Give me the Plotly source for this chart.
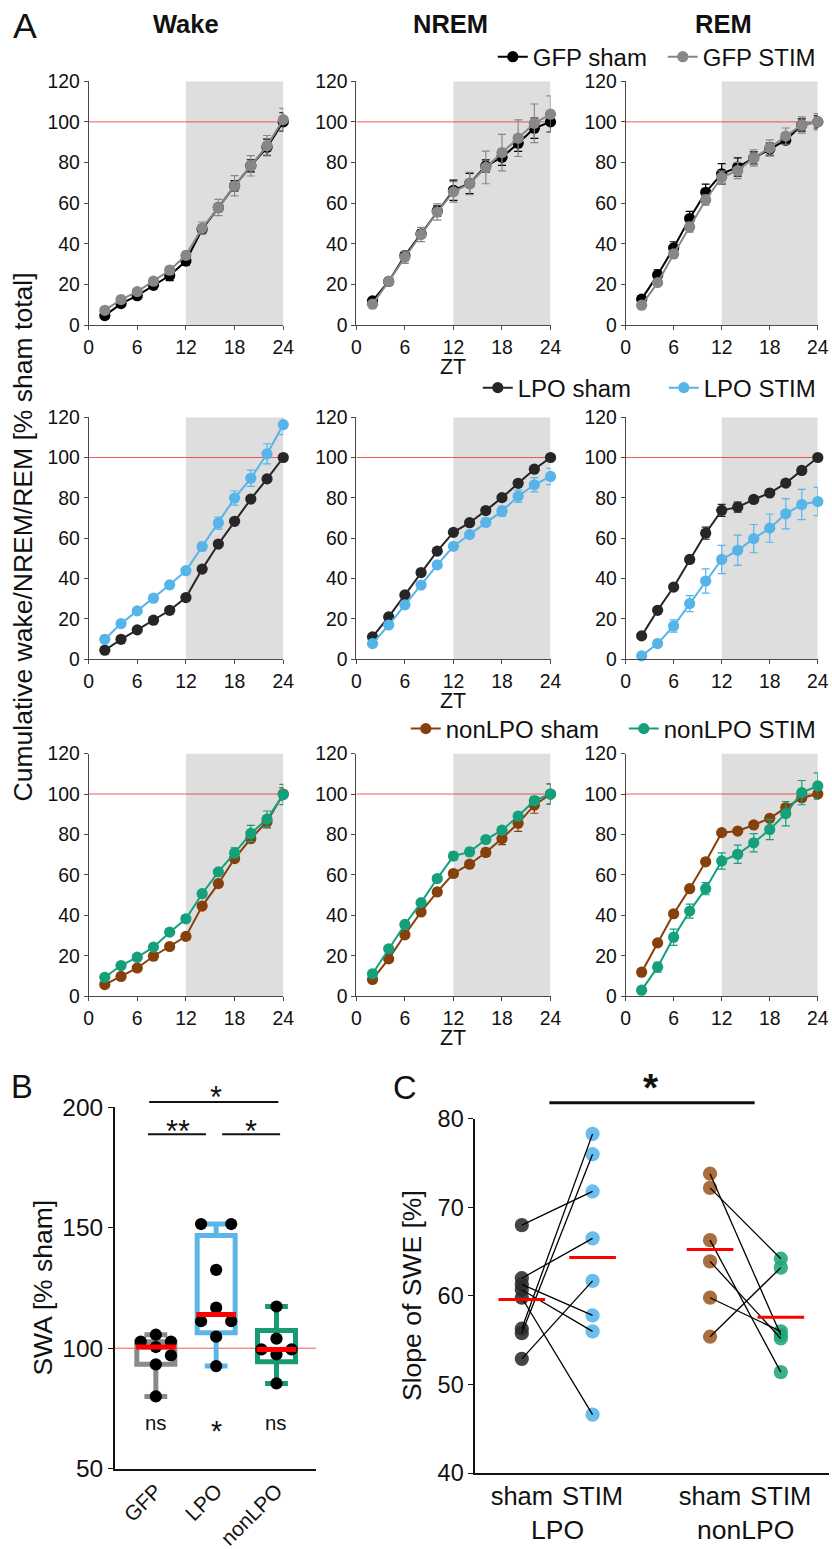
import numpy as np
import plotly.graph_objects as go

# Canvas geometry.  Positions below are given in final-picture pixels and
# converted to paper fractions; the page shows the figure at ~0.98 scale,
# offset by the html body margin.
SCALE, OFF_X, OFF_Y = 0.98, 7.0, 14.0
W, H = 840, 1566
FONT = "Liberation Sans, Arial, Helvetica, sans-serif"
INK = "#111111"


def fx(p):
    return min(max(((p - OFF_X) / SCALE) / W, 0.0), 1.0)


def fy(p):
    return min(max(1 - ((p - OFF_Y) / SCALE) / H, 0.0), 1.0)


def fs(size):
    return size / SCALE


# ---------------- data: cumulative time (% of sham total) per 2 h bin ----------------
zt = [2, 4, 6, 8, 10, 12, 14, 16, 18, 20, 22, 24]
zt_ticks = [0, 6, 12, 18, 24]
pct_ticks = [0, 20, 40, 60, 80, 100, 120]

# GFP
wake_gfp_sham = [4.8, 10.7, 14.6, 19.7, 24.5, 31.6, 47.2, 57.9, 68.6, 78.4, 87.5, 100.0]
wake_gfp_sham_sem = [0.8, 1.0, 1.0, 1.2, 2.5, 2.0, 2.0, 2.0, 2.5, 3.0, 4.0, 4.5]
wake_gfp_stim = [7.4, 12.7, 16.6, 21.7, 27.1, 34.4, 47.8, 57.9, 68.6, 78.4, 88.3, 101.1]
wake_gfp_stim_sem = [1.0, 1.0, 1.2, 1.5, 2.0, 2.0, 3.0, 4.0, 5.0, 5.0, 5.0, 5.5]

nrem_gfp_sham = [12.0, 21.6, 34.3, 45.0, 56.2, 66.4, 69.7, 78.3, 82.6, 89.5, 96.9, 100.0]
nrem_gfp_sham_sem = [1.0, 1.0, 1.5, 2.0, 2.5, 5.0, 5.0, 3.0, 4.0, 4.0, 5.0, 5.0]
nrem_gfp_stim = [10.4, 21.6, 33.5, 44.7, 55.7, 65.6, 69.7, 77.6, 84.9, 92.0, 99.3, 103.8]
nrem_gfp_stim_sem = [1.0, 1.0, 3.0, 3.5, 4.0, 5.0, 5.5, 8.0, 9.0, 9.0, 9.5, 9.0]

rem_gfp_sham = [12.9, 24.8, 38.1, 52.5, 65.4, 74.5, 77.8, 82.3, 86.6, 91.0, 98.5, 100.0]
rem_gfp_sham_sem = [1.0, 2.5, 3.0, 3.5, 4.0, 5.0, 4.5, 3.0, 3.0, 2.0, 3.0, 3.0]
rem_gfp_stim = [9.9, 21.0, 35.1, 48.3, 61.6, 72.8, 76.1, 82.3, 87.2, 93.0, 98.5, 100.1]
rem_gfp_stim_sem = [1.0, 1.5, 2.0, 2.5, 2.5, 3.0, 4.0, 4.0, 4.0, 4.0, 4.0, 4.0]

# LPO
wake_lpo_sham = [4.5, 9.9, 14.6, 19.4, 24.3, 30.6, 44.7, 57.1, 68.4, 79.4, 89.4, 100.0]
wake_lpo_sham_sem = [0.5, 0.8, 0.8, 0.8, 1.0, 1.0, 1.0, 1.0, 1.0, 1.0, 1.0, 1.0]
wake_lpo_stim = [9.9, 17.7, 24.0, 30.3, 36.9, 43.9, 55.9, 67.5, 79.9, 89.7, 101.8, 116.3]
wake_lpo_stim_sem = [1.0, 1.0, 1.0, 1.0, 1.0, 1.0, 2.0, 3.0, 3.5, 4.0, 5.0, 5.0]

nrem_lpo_sham = [11.1, 21.0, 31.9, 43.0, 53.6, 62.9, 67.7, 73.7, 80.1, 87.2, 94.2, 100.0]
nrem_lpo_sham_sem = [0.8, 0.8, 0.8, 1.0, 1.0, 1.0, 1.0, 1.0, 1.0, 1.0, 1.0, 1.0]
nrem_lpo_stim = [7.8, 17.0, 27.0, 36.8, 46.8, 56.0, 61.8, 67.8, 73.4, 80.8, 86.5, 90.6]
nrem_lpo_stim_sem = [1.0, 1.0, 1.0, 1.0, 1.5, 1.5, 1.5, 2.0, 2.5, 3.0, 3.5, 4.0]

rem_lpo_sham = [11.6, 24.3, 35.8, 49.5, 62.5, 73.8, 75.4, 79.2, 82.4, 87.3, 93.6, 100.0]
rem_lpo_sham_sem = [1.0, 1.0, 1.0, 1.5, 3.0, 3.0, 2.5, 1.5, 1.0, 1.0, 1.0, 1.0]
rem_lpo_stim = [1.7, 7.8, 16.5, 27.6, 38.8, 49.5, 54.0, 59.8, 65.0, 72.1, 76.7, 78.2]
rem_lpo_stim_sem = [1.0, 1.5, 3.0, 4.0, 6.0, 7.0, 7.5, 7.0, 7.0, 7.5, 7.5, 7.0]

# nonLPO
wake_non_sham = [5.8, 9.8, 14.0, 19.8, 24.6, 29.6, 44.6, 55.7, 68.1, 78.0, 86.3, 100.0]
wake_non_sham_sem = [1.0, 1.0, 1.0, 1.0, 1.0, 1.0, 1.0, 1.0, 1.5, 2.0, 3.0, 3.0]
wake_non_stim = [9.4, 15.2, 19.3, 24.3, 31.7, 38.3, 50.7, 61.5, 70.9, 80.5, 87.6, 99.8]
wake_non_stim_sem = [1.0, 1.0, 1.0, 1.0, 1.5, 1.5, 1.5, 1.5, 2.5, 4.0, 4.0, 5.0]

nrem_non_sham = [8.3, 18.5, 30.4, 41.7, 51.6, 60.7, 65.3, 71.1, 78.0, 85.5, 94.5, 100.0]
nrem_non_sham_sem = [1.0, 1.0, 1.0, 1.0, 1.5, 1.5, 1.5, 2.0, 3.0, 4.0, 4.0, 5.0]
nrem_non_stim = [11.1, 23.5, 35.5, 46.3, 58.2, 69.3, 71.4, 77.5, 82.1, 89.1, 96.7, 100.0]
nrem_non_stim_sem = [1.0, 1.0, 1.0, 1.0, 1.5, 2.0, 2.0, 1.5, 1.5, 1.5, 2.0, 5.0]

rem_non_sham = [11.9, 26.4, 40.8, 53.2, 66.5, 80.9, 81.7, 84.7, 88.0, 93.3, 98.2, 100.0]
rem_non_sham_sem = [1.0, 1.0, 1.0, 1.0, 1.0, 1.0, 1.0, 1.0, 1.0, 1.5, 1.5, 1.5]
rem_non_stim = [3.0, 14.4, 29.2, 42.1, 53.2, 66.9, 70.2, 75.9, 82.5, 90.3, 100.7, 104.0]
rem_non_stim_sem = [1.0, 2.5, 4.0, 3.5, 3.0, 4.0, 4.5, 4.5, 5.0, 6.0, 6.0, 6.5]

# ---------------- data: SWA (% sham) ----------------
swa_groups = ["GFP", "LPO", "nonLPO"]
swa_gfp = [105.6, 102.7, 102.7, 100.5, 97.0, 93.3, 80.0]
swa_lpo = [151.5, 151.5, 132.5, 116.8, 111.2, 111.2, 104.8, 92.6]
swa_nonlpo = [117.3, 104.0, 99.5, 99.5, 97.4, 85.4]
swa_tests = ["ns", "*", "ns"]

# ---------------- data: slope of SWE (%), paired sham -> STIM ----------------
slope_lpo_sham = [68.0, 62.0, 61.3, 60.7, 59.8, 56.3, 55.8, 52.9]
slope_lpo_stim = [71.8, 66.5, 57.8, 56.0, 46.6, 78.3, 76.0, 61.7]
slope_non_sham = [73.8, 72.2, 66.3, 63.9, 59.8, 55.4]
slope_non_stim = [55.6, 64.2, 51.4, 55.2, 56.0, 63.2]

# ---------------- colours ----------------
C_GFP_SHAM, C_GFP_STIM = "#000000", "#878787"
C_LPO_SHAM, C_LPO_STIM = "#262626", "#56B4E9"
C_NON_SHAM, C_NON_STIM = "#86400c", "#13a07a"
C_REF = "rgba(235,60,60,0.85)"

fig = go.Figure()
layout = {}
shapes = []
annotations = []


def axid(i):
    return ("x" if i == 1 else f"x{i}"), ("y" if i == 1 else f"y{i}")


def axkey(i):
    return ("xaxis" if i == 1 else f"xaxis{i}"), ("yaxis" if i == 1 else f"yaxis{i}")


def ann(text, x, y, size, xref="paper", yref="paper", bold=False, angle=0, xanchor="center"):
    annotations.append(dict(
        text=f"<b>{text}</b>" if bold else text, x=x, y=y, xref=xref, yref=yref,
        showarrow=False, xanchor=xanchor, yanchor="middle", textangle=angle,
        font=dict(family=FONT, size=fs(size), color=INK)))


# ================= panel A: cumulative curves =================
col_px = [(90.5, 285), (358, 552), (627, 819)]
row_px = [(82, 325.5), (417, 658.5), (752.5, 994.5)]

groups = [
    dict(names=("GFP sham", "GFP STIM"), colors=(C_GFP_SHAM, C_GFP_STIM), legend="legend", ly=58,
         entry=125,
         data=[(wake_gfp_sham, wake_gfp_sham_sem, wake_gfp_stim, wake_gfp_stim_sem),
               (nrem_gfp_sham, nrem_gfp_sham_sem, nrem_gfp_stim, nrem_gfp_stim_sem),
               (rem_gfp_sham, rem_gfp_sham_sem, rem_gfp_stim, rem_gfp_stim_sem)]),
    dict(names=("LPO sham", "LPO STIM"), colors=(C_LPO_SHAM, C_LPO_STIM), legend="legend2", ly=388,
         entry=141,
         data=[(wake_lpo_sham, wake_lpo_sham_sem, wake_lpo_stim, wake_lpo_stim_sem),
               (nrem_lpo_sham, nrem_lpo_sham_sem, nrem_lpo_stim, nrem_lpo_stim_sem),
               (rem_lpo_sham, rem_lpo_sham_sem, rem_lpo_stim, rem_lpo_stim_sem)]),
    dict(names=("nonLPO sham", "nonLPO STIM"), colors=(C_NON_SHAM, C_NON_STIM), legend="legend3",
         ly=728, entry=173,
         data=[(wake_non_sham, wake_non_sham_sem, wake_non_stim, wake_non_stim_sem),
               (nrem_non_sham, nrem_non_sham_sem, nrem_non_stim, nrem_non_stim_sem),
               (rem_non_sham, rem_non_sham_sem, rem_non_stim, rem_non_stim_sem)]),
]

axis_common = dict(showline=True, linecolor="#4a4a4a", linewidth=1, ticks="outside", ticklen=4,
                   tickcolor="#4a4a4a", showgrid=False, zeroline=False, fixedrange=True,
                   tickfont=dict(family=FONT, size=fs(19), color=INK))

for r, g in enumerate(groups):
    for c in range(3):
        i = r * 3 + c + 1
        xa, ya = axid(i)
        xk, yk = axkey(i)
        (x0, x1), (y0, y1) = col_px[c], row_px[r]
        layout[xk] = dict(axis_common, domain=[fx(x0), fx(x1)], anchor=ya, range=[0, 24],
                          tickvals=zt_ticks)
        layout[yk] = dict(axis_common, domain=[fy(y1), fy(y0)], anchor=xa, range=[0, 120],
                          tickvals=pct_ticks)
        # dark phase
        shapes.append(dict(type="rect", xref=xa, yref=ya, x0=12, x1=24, y0=0, y1=120,
                           fillcolor="#dedede", line=dict(width=0), layer="below"))
        # sham total reference
        shapes.append(dict(type="line", xref=xa, yref=ya, x0=0, x1=24, y0=100, y1=100,
                           line=dict(color=C_REF, width=1), layer="below"))
        sham, sham_e, stim, stim_e = g["data"][c]
        for k, (name, vals, err, col) in enumerate(((g["names"][0], sham, sham_e, g["colors"][0]),
                                                    (g["names"][1], stim, stim_e, g["colors"][1]))):
            fig.add_trace(go.Scatter(
                x=zt, y=vals, mode="lines+markers", name=name, xaxis=xa, yaxis=ya,
                line=dict(color=col, width=2), marker=dict(color=col, size=fs(11)),
                error_y=dict(type="data", array=err, color=col, thickness=1.2, width=4),
                cliponaxis=False, showlegend=(c == 0), legend=g["legend"],
                legendwidth=(g["entry"] if k == 0 else None), hoverinfo="skip"))
    layout[g["legend"]] = dict(
        orientation="h", x=fx(822), xanchor="right", y=fy(g["ly"]), yanchor="middle",
        font=dict(family=FONT, size=fs(23.5), color=INK), bgcolor="rgba(0,0,0,0)",
        itemwidth=30, tracegroupgap=0, itemclick=False, itemdoubleclick=False)
    ann("ZT", fx(455), fy(row_px[r][1] + 42), 21)

for title, cx in (("Wake", 188), ("NREM", 452), ("REM", 725)):
    ann(title, fx(cx), fy(25), 25, bold=True)
ann("A", fx(27), fy(27), 35)
ann("Cumulative wake/NREM/REM [% sham total]", fx(25), fy(537), 26, angle=-90)

# ================= panel B: SWA box plots =================
BX = 10
bxa, bya = axid(BX)
bxk, byk = axkey(BX)
b_range = [-0.68, 2.66]
layout[bxk] = dict(domain=[fx(116.7), fx(318)], anchor=bya, range=b_range, tickvals=[0, 1, 2],
                   ticktext=swa_groups, tickangle=-45, showline=True, linecolor="#111",
                   linewidth=1.5, ticks="", showgrid=False, zeroline=False, fixedrange=True,
                   tickfont=dict(family=FONT, size=fs(20.5), color=INK))
layout[byk] = dict(domain=[fy(1465.7), fy(1105)], anchor=bxa, range=[50, 200],
                   tickvals=[50, 100, 150, 200], showline=True, linecolor="#111", linewidth=1.5,
                   ticks="outside", ticklen=5, tickcolor="#111", showgrid=False, zeroline=False,
                   fixedrange=True, tickfont=dict(family=FONT, size=fs(24), color=INK))
shapes.append(dict(type="line", xref=bxa, yref=bya, x0=b_range[0], x1=b_range[1], y0=100, y1=100,
                   line=dict(color=C_REF, width=1), layer="below"))

B_Y_PX = 360.7 / 150.0   # pixels per % on the SWA axis
B_X_PX = 60.3            # pixels per category
DOT_PX = 12.0
STEP = 0.25


def swarm_offsets(vals):
    """Spread near-equal values sideways; shift lone points that would overlap."""
    order = np.argsort(vals)[::-1]
    v = np.asarray(vals, dtype=float)
    off = np.zeros(len(v))
    clusters, cur = [], [order[0]]
    for j in order[1:]:
        if abs(v[j] - v[cur[-1]]) < 1.0:
            cur.append(j)
        else:
            clusters.append(cur)
            cur = [j]
    clusters.append(cur)
    placed = []
    for cl in clusters:
        n = len(cl)
        if n > 1:
            for k, j in enumerate(cl):
                off[j] = (k - (n - 1) / 2) * (2 * STEP if n == 2 else STEP)
                placed.append(j)
            continue
        j = cl[0]
        for cand in (0, STEP, -STEP, 2 * STEP, -2 * STEP):
            ok = all(np.hypot((cand - off[p]) * B_X_PX, (v[j] - v[p]) * B_Y_PX) >= DOT_PX
                     for p in placed)
            if ok:
                off[j] = cand
                break
        placed.append(j)
    return off


for k, (vals, col) in enumerate(((swa_gfp, "#8a8a8a"), (swa_lpo, "#5cb5e6"),
                                 (swa_nonlpo, "#169b74"))):
    arr = np.asarray(vals, dtype=float)
    q1, med, q3 = np.percentile(arr, [25, 50, 75], method="weibull")
    fig.add_trace(go.Box(
        x=[k], q1=[q1], median=[med], q3=[q3], lowerfence=[arr.min()], upperfence=[arr.max()],
        width=0.63, whiskerwidth=0.6, line=dict(color=col, width=5), fillcolor="rgba(0,0,0,0)",
        boxpoints=False, xaxis=bxa, yaxis=bya, showlegend=False, hoverinfo="skip"))
    fig.add_trace(go.Scatter(
        x=k + swarm_offsets(vals), y=arr, mode="markers", xaxis=bxa, yaxis=bya,
        marker=dict(color="#000000", size=fs(12)), showlegend=False, hoverinfo="skip",
        cliponaxis=False))
    fig.add_trace(go.Scatter(
        x=[k - 0.33, k + 0.33], y=[med, med], mode="lines", xaxis=bxa, yaxis=bya,
        line=dict(color="#ff0000", width=5), showlegend=False, hoverinfo="skip"))
    if swa_tests[k] == "ns":
        ann("ns", k, fy(1420), 20, xref=bxa)
    else:
        ann(swa_tests[k], k, fy(1428), 28, xref=bxa)

# pairwise comparisons
for xa0, xa1, ypx, txt, tx, typ in ((-0.11, 2.03, 1100, "*", 0.99, 1094.5),
                                    (-0.13, 0.83, 1132, "**", 0.37, 1128.5),
                                    (1.10, 2.06, 1132, "*", 1.58, 1128.5)):
    shapes.append(dict(type="line", xref=bxa, yref="paper", x0=xa0, x1=xa1, y0=fy(ypx), y1=fy(ypx),
                       line=dict(color="#111", width=2)))
    ann(txt, tx, fy(typ), 30, xref=bxa)

ann("B", fx(24), fy(1084), 32)
ann("SWA [% sham]", fx(45), fy(1285), 26, angle=-90)

# ================= panel C: slope of SWE =================
CX = 11
cxa, cya = axid(CX)
cxk, cyk = axkey(CX)
pos = {"LPO": (0.0, 1.0), "nonLPO": (2.66, 3.66)}
C_ORIGIN_PX, C_UNIT_PX = 523.3, 70.7
c_left, c_right = 476.7, 830.0
c_range = [(c_left - C_ORIGIN_PX) / C_UNIT_PX, (c_right - C_ORIGIN_PX) / C_UNIT_PX]
layout[cxk] = dict(domain=[fx(c_left), fx(c_right)], anchor=cya, range=c_range,
                   tickvals=[pos["LPO"][0], pos["LPO"][1], pos["nonLPO"][0], pos["nonLPO"][1]],
                   ticktext=["sham", "STIM", "sham", "STIM"], showline=True, linecolor="#111",
                   linewidth=1.5, ticks="", showgrid=False, zeroline=False, fixedrange=True,
                   tickfont=dict(family=FONT, size=fs(25), color=INK))
layout[cyk] = dict(domain=[fy(1470), fy(1116.7)], anchor=cxa, range=[40, 80],
                   tickvals=[40, 50, 60, 70, 80], showline=True, linecolor="#111", linewidth=1.5,
                   ticks="outside", ticklen=5, tickcolor="#111", showgrid=False, zeroline=False,
                   fixedrange=True, tickfont=dict(family=FONT, size=fs(23), color=INK))

for grp, sham, stim, c_sham, c_stim in (("LPO", slope_lpo_sham, slope_lpo_stim, "#2b2b2b", "#56B4E9"),
                                        ("nonLPO", slope_non_sham, slope_non_stim, "#9c5a22", "#20a57c")):
    xs, xt = pos[grp]
    fig.add_trace(go.Scatter(x=[xs] * len(sham), y=sham, mode="markers", xaxis=cxa, yaxis=cya,
                             marker=dict(color=c_sham, size=fs(14), opacity=0.88), showlegend=False,
                             hoverinfo="skip", cliponaxis=False))
    fig.add_trace(go.Scatter(x=[xt] * len(stim), y=stim, mode="markers", xaxis=cxa, yaxis=cya,
                             marker=dict(color=c_stim, size=fs(14), opacity=0.88), showlegend=False,
                             hoverinfo="skip", cliponaxis=False))
    lx, ly = [], []
    for a, b in zip(sham, stim):
        lx += [xs, xt, None]
        ly += [a, b, None]
    fig.add_trace(go.Scatter(x=lx, y=ly, mode="lines", xaxis=cxa, yaxis=cya,
                             line=dict(color="#000000", width=1.3), showlegend=False,
                             hoverinfo="skip"))
    for xc, vals in ((xs, sham), (xt, stim)):
        m = float(np.mean(vals))
        fig.add_trace(go.Scatter(x=[xc - 0.33, xc + 0.33], y=[m, m], mode="lines", xaxis=cxa,
                                 yaxis=cya, line=dict(color="#ff0000", width=3), showlegend=False,
                                 hoverinfo="skip"))
    ann(grp, (xs + xt) / 2, fy(1527), 26, xref=cxa)

shapes.append(dict(type="line", xref=cxa, yref="paper", x0=0.39, x1=3.29, y0=fy(1100.7),
                   y1=fy(1100.7), line=dict(color="#111", width=3)))
ann("<b>*</b>", 1.83, fy(1085), 38, xref=cxa)
ann("C", fx(407), fy(1085), 32)
ann("Slope of SWE [%]", fx(413), fy(1293), 26, angle=-90)

fig.update_layout(
    width=W, height=H, margin=dict(l=0, r=0, t=0, b=0, pad=0),
    paper_bgcolor="white", plot_bgcolor="white", font=dict(family=FONT, color=INK),
    shapes=shapes, annotations=annotations, hovermode=False, **layout)

fig.write_html("out.html", config={"displayModeBar": False})
